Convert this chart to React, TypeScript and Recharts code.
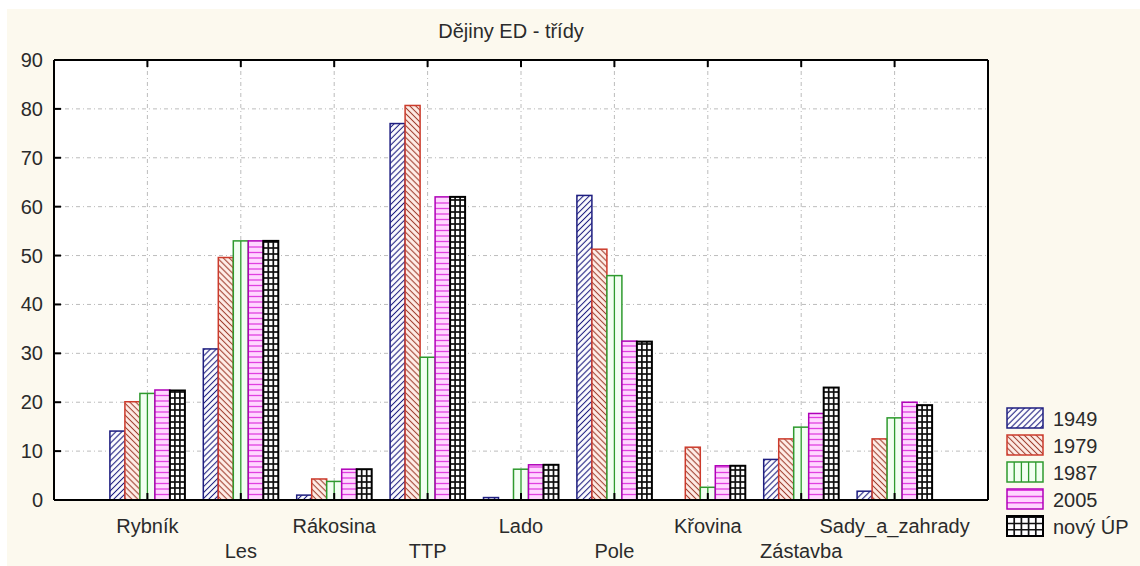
import React from 'react';
import { BarChart, Bar, XAxis, YAxis, CartesianGrid } from 'recharts';

const categories = ['Rybník', 'Les', 'Rákosina', 'TTP', 'Lado', 'Pole', 'Křovina', 'Zástavba', 'Sady_a_zahrady'];
const v1949 = [14.1, 30.9, 1.0, 77.0, 0.5, 62.3, 0, 8.3, 1.8];
const v1979 = [20.1, 49.6, 4.3, 80.7, 0, 51.3, 10.8, 12.5, 12.5];
const v1987 = [21.8, 53.0, 3.8, 29.2, 6.3, 45.9, 2.6, 14.9, 16.8];
const v2005 = [22.5, 53.0, 6.3, 62.0, 7.2, 32.5, 7.0, 17.7, 20.0];
const vNovy = [22.4, 53.0, 6.3, 62.0, 7.2, 32.4, 7.0, 23.0, 19.4];
const seriesNames = ['1949', '1979', '1987', '2005', 'nový ÚP'];
const yTicks = [0, 10, 20, 30, 40, 50, 60, 70, 80, 90];
const title = 'Dějiny ED - třídy';

const seriesValues = [v1949, v1979, v1987, v2005, vNovy];
const keys = ['s1949', 's1979', 's1987', 's2005', 'sNovy'];

const data = categories.map((name, i) => {
  const row: any = { name };
  keys.forEach((k, j) => { row[k] = seriesValues[j][i]; });
  return row;
});

const FONT = '"Liberation Sans", Arial, Helvetica, sans-serif';
const TXT = '#2b2b2b';

type St = {
  stroke: string; bg: string; hatch?: string; line: string;
  cols?: number; legCols?: number; hStep?: number; lw: number; sw: number;
};

const styles: St[] = [
  { stroke: '#1e1e80', bg: '#ffffff', hatch: 'hatch1949', line: '#1e1e80', lw: 1, sw: 1.5 },
  { stroke: '#cc3b2c', bg: '#ffeee8', hatch: 'hatch1979', line: '#a04030', lw: 1, sw: 1.5 },
  { stroke: '#2e9a2e', bg: '#f2fff2', line: '#2e9a2e', cols: 2, legCols: 5, lw: 1.3, sw: 1.5 },
  { stroke: '#b000b8', bg: '#ffd6ff', line: '#e040e0', hStep: 5.5, lw: 1.3, sw: 1.5 },
  { stroke: '#000000', bg: '#ffffff', line: '#111111', cols: 3, legCols: 5, hStep: 6, lw: 1.7, sw: 2 },
];

function Swatch({ x, y, width, height, st, legend }: any) {
  if (!width || !height || height <= 0.3) return null;
  const lines: any[] = [];
  const cols = legend ? st.legCols : st.cols;
  if (cols) {
    for (let i = 1; i < cols; i++) {
      const lx = x + (width * i) / cols;
      lines.push(<line key={'v' + i} x1={lx} x2={lx} y1={y} y2={y + height} stroke={st.line} strokeWidth={st.lw} />);
    }
  }
  if (st.hStep) {
    const step = legend ? height / 3.2 : st.hStep;
    let k = 0;
    for (let yy = y + height - step; yy > y + 0.8; yy -= step) {
      lines.push(<line key={'h' + k++} x1={x} x2={x + width} y1={yy} y2={yy} stroke={st.line} strokeWidth={st.lw} />);
    }
  }
  return (
    <g>
      <rect x={x} y={y} width={width} height={height} fill={st.bg} />
      {st.hatch && <rect x={x} y={y} width={width} height={height} fill={`url(#${st.hatch})`} />}
      {lines}
      <rect x={x} y={y} width={width} height={height} fill="none" stroke={st.stroke} strokeWidth={st.sw} />
    </g>
  );
}

const XTick = (props: any) => {
  const { x, y, payload } = props;
  const idx = props.index ?? payload.index ?? 0;
  const low = idx % 2 === 1;
  return (
    <g>
      <line x1={x} x2={x} y1={y} y2={y - 7} stroke="#000" strokeWidth={2} />
      <text x={x} y={y + (low ? 58 : 33)} textAnchor="middle" fill={TXT} fontSize={20} fontFamily={FONT}>
        {payload.value}
      </text>
    </g>
  );
};

const TopTick = (props: any) => {
  const { x, y } = props;
  return <line x1={x} x2={x} y1={y} y2={y + 7} stroke="#000" strokeWidth={2} />;
};

const YTick = (props: any) => {
  const { x, y, payload } = props;
  return (
    <g>
      <line x1={x} x2={x + 7} y1={y} y2={y} stroke="#000" strokeWidth={2} />
      <text x={x - 11} y={y + 7} textAnchor="end" fill={TXT} fontSize={20} fontFamily={FONT}>
        {payload.value}
      </text>
    </g>
  );
};

const RTick = (props: any) => {
  const { x, y } = props;
  return <line x1={x} x2={x - 7} y1={y} y2={y} stroke="#000" strokeWidth={2} />;
};

const W = 1133;
const H = 557;

export default function App() {
  return (
    <div style={{ position: 'fixed', left: 7, top: 9, width: W, height: H, background: '#fcf9ee', overflow: 'hidden' }}>
      <svg width={W} height={H} style={{ position: 'absolute', left: 0, top: 0, pointerEvents: 'none', zIndex: 2 }}>
        <defs>
          <pattern id="hatch1949" patternUnits="userSpaceOnUse" width={4.2} height={4.2} patternTransform="rotate(45)">
            <line x1={2.1} y1={0} x2={2.1} y2={4.2} stroke="#1e1e80" strokeWidth={1.1} />
          </pattern>
          <pattern id="hatch1979" patternUnits="userSpaceOnUse" width={4.2} height={4.2} patternTransform="rotate(-45)">
            <line x1={2.1} y1={0} x2={2.1} y2={4.2} stroke="#a04030" strokeWidth={1.1} />
          </pattern>
        </defs>
        <text x={504} y={29} textAnchor="middle" fill={TXT} fontSize={20} fontFamily={FONT}>{title}</text>
        {seriesNames.map((n, i) => (
          <g key={n}>
            <Swatch x={1000} y={399 + 27 * i} width={36} height={20} st={styles[i]} legend />
            <text x={1046} y={417 + 27 * i} fill={TXT} fontSize={20} fontFamily={FONT}>{n}</text>
          </g>
        ))}
      </svg>
      <BarChart
        width={W}
        height={H}
        data={data}
        margin={{ top: 50, right: 150, bottom: 6, left: 7 }}
        barCategoryGap="9.85%"
        barGap={0}
      >
        <CartesianGrid fill="#ffffff" stroke="#bcbcbc" strokeDasharray="4 3 1 3" />
        <XAxis
          dataKey="name"
          interval={0}
          height={60}
          padding={{ left: 46.7, right: 46.7 }}
          tickSize={0}
          tickMargin={0}
          tickLine={false}
          axisLine={{ stroke: '#000', strokeWidth: 2 }}
          tick={<XTick />}
        />
        <XAxis
          xAxisId="top"
          orientation="top"
          dataKey="name"
          interval={0}
          height={1}
          padding={{ left: 46.7, right: 46.7 }}
          tickSize={0}
          tickMargin={0}
          tickLine={false}
          axisLine={{ stroke: '#000', strokeWidth: 2 }}
          tick={<TopTick />}
        />
        <YAxis
          type="number"
          domain={[0, 90]}
          ticks={yTicks}
          interval={0}
          width={40}
          tickSize={0}
          tickMargin={0}
          tickLine={false}
          axisLine={{ stroke: '#000', strokeWidth: 2 }}
          tick={<YTick />}
        />
        <YAxis
          yAxisId="right"
          orientation="right"
          type="number"
          domain={[0, 90]}
          ticks={yTicks}
          interval={0}
          width={2}
          tickSize={0}
          tickMargin={0}
          tickLine={false}
          axisLine={{ stroke: '#000', strokeWidth: 2 }}
          tick={<RTick />}
        />
        {keys.map((k, i) => (
          <Bar
            key={k}
            dataKey={k}
            name={seriesNames[i]}
            isAnimationActive={false}
            shape={(p: any) => <Swatch x={p.x} y={p.y} width={p.width} height={p.height} st={styles[i]} />}
          />
        ))}
      </BarChart>
    </div>
  );
}
